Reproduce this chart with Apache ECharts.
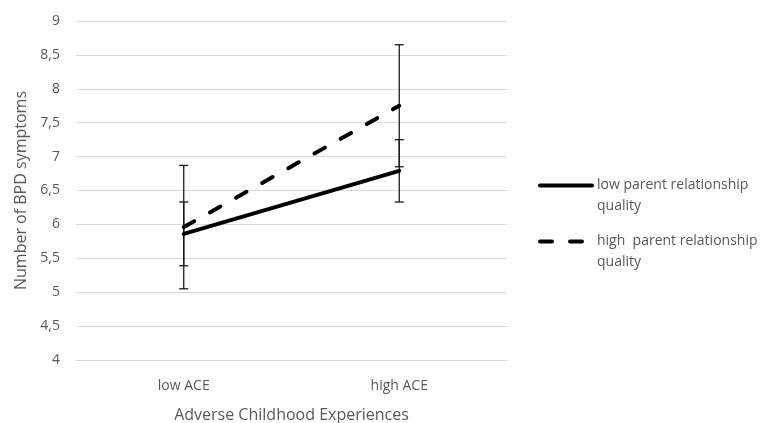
<!DOCTYPE html>
<html>
<head>
<meta charset="utf-8">
<script src="https://cdn.jsdelivr.net/npm/echarts@6/dist/echarts.min.js"></script>
<style>html,body{margin:0;padding:0;background:#fff;}#c{width:772px;height:423px;}</style>
</head>
<body>
<div id="c"></div>
<script>
var categories = ['low ACE', 'high ACE'];
var lowParentMeans = [5.86, 6.79];
var lowParentErr = [0.47, 0.46];
var highParentMeans = [5.96, 7.75];
var highParentErr = [0.91, 0.9];
var seriesNames = ['low parent relationship quality', 'high  parent relationship quality'];
var legendLabels = {
  'low parent relationship quality': '\nlow parent relationship\nquality',
  'high  parent relationship quality': '\nhigh  parent relationship\nquality'
};
var yMin = 4, yMax = 9, yStep = 0.5;

function errData(means, errs) {
  return means.map(function (m, i) { return [i, m - errs[i], m + errs[i]]; });
}
function renderErr(params, api) {
  var x = api.value(0);
  var lo = api.coord([x, api.value(1)]);
  var hi = api.coord([x, api.value(2)]);
  var hw = 4.5;
  var st = { stroke: '#1a1a1a', lineWidth: 1.3 };
  return {
    type: 'group',
    children: [
      { type: 'line', shape: { x1: lo[0], y1: lo[1], x2: hi[0], y2: hi[1] }, style: st },
      { type: 'line', shape: { x1: lo[0] - hw, y1: lo[1], x2: lo[0] + hw, y2: lo[1] }, style: st },
      { type: 'line', shape: { x1: hi[0] - hw, y1: hi[1], x2: hi[0] + hw, y2: hi[1] }, style: st }
    ]
  };
}

var font = '"Open Sans", Lato, sans-serif';
var chart = echarts.init(document.getElementById('c'), null, { renderer: 'canvas' });
chart.setOption({
  animation: false,
  backgroundColor: '#fff',
  textStyle: { fontFamily: font, color: '#595959' },
  grid: { left: 76, right: 265, top: 21, bottom: 63, outerBoundsMode: 'none', containLabel: false },
  legend: {
    orient: 'vertical',
    left: 533,
    top: 149,
    itemWidth: 52,
    itemHeight: 14,
    itemGap: -7,
    data: seriesNames,
    itemStyle: { opacity: 0 },
    lineStyle: { width: 4, cap: 'round' },
    formatter: function (n) { return legendLabels[n]; },
    textStyle: { fontFamily: font, fontSize: 14, color: '#595959', lineHeight: 21 }
  },
  xAxis: {
    type: 'category',
    data: categories,
    boundaryGap: true,
    axisLine: { lineStyle: { color: '#d9d9d9', width: 1 } },
    axisTick: { show: false },
    axisLabel: { fontSize: 14, color: '#595959', margin: 19, fontFamily: font },
    name: 'Adverse Childhood Experiences',
    nameLocation: 'middle',
    nameGap: 47,
    nameTextStyle: { fontSize: 16, color: '#595959', fontFamily: font }
  },
  yAxis: {
    type: 'value',
    min: yMin, max: yMax, interval: yStep,
    axisLine: { show: false },
    axisTick: { show: false },
    splitLine: { lineStyle: { color: '#d9d9d9', width: 1 } },
    axisLabel: {
      fontSize: 14, color: '#595959', margin: 16, fontFamily: font,
      formatter: function (v) { return String(v).replace('.', ','); }
    },
    name: 'Number of BPD symptoms',
    nameLocation: 'middle',
    nameGap: 47,
    nameTextStyle: { fontSize: 16, color: '#595959', fontFamily: font }
  },
  series: [
    {
      type: 'custom', name: 'errLow', renderItem: renderErr,
      data: errData(lowParentMeans, lowParentErr), z: 1, silent: true
    },
    {
      type: 'custom', name: 'errHigh', renderItem: renderErr,
      data: errData(highParentMeans, highParentErr), z: 1, silent: true
    },
    {
      type: 'line', name: seriesNames[0], data: lowParentMeans,
      symbol: 'none', z: 3,
      lineStyle: { color: '#000', width: 4, cap: 'round' },
      itemStyle: { color: '#000' }
    },
    {
      type: 'line', name: seriesNames[1], data: highParentMeans,
      symbol: 'none', z: 3,
      lineStyle: { color: '#000', width: 4, type: [12, 18], cap: 'round' },
      itemStyle: { color: '#000' }
    }
  ]
});
</script>
</body>
</html>
